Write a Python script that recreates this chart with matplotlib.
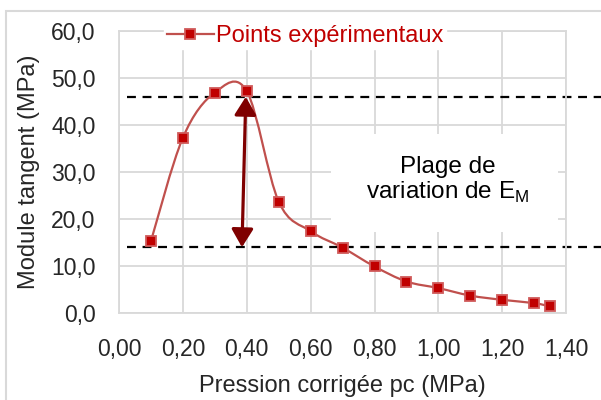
import matplotlib
matplotlib.use('Agg')
import matplotlib.pyplot as plt
from matplotlib.path import Path
from matplotlib.patches import PathPatch, Rectangle
from matplotlib.lines import Line2D

plt.rcParams['font.family'] = ['Liberation Sans', 'DejaVu Sans']
plt.rcParams['mathtext.fontset'] = 'custom'
plt.rcParams['mathtext.rm'] = 'Liberation Sans'

# données
pression = [0.10, 0.20, 0.30, 0.40, 0.50, 0.60, 0.70, 0.80, 0.90, 1.00, 1.10, 1.20, 1.30, 1.35]
module = [15.3, 37.3, 46.9, 47.2, 23.7, 17.4, 13.9, 9.9, 6.7, 5.3, 3.7, 2.8, 2.1, 1.4]
em_min, em_max = 14.0, 46.0
fleche_x = [0.385, 0.397]   # bas, haut
x_ticks = [0.0, 0.2, 0.4, 0.6, 0.8, 1.0, 1.2, 1.4]
y_ticks = [0, 10, 20, 30, 40, 50, 60]

rouge_ligne = '#c0504d'
rouge_point = '#c00000'
gris = '#d9d9d9'

fig = plt.figure(figsize=(6.01, 4.00), dpi=100)
ax = fig.add_axes([0.198, 0.2175, 0.744, 0.705])

# courbe lissée type Excel (bezier)
pts = list(zip(pression, module))
verts = [pts[0]]
codes = [Path.MOVETO]
n = len(pts)
for i in range(n - 1):
    p0 = pts[i - 1] if i > 0 else pts[i]
    p1 = pts[i]
    p2 = pts[i + 1]
    p3 = pts[i + 2] if i + 2 < n else pts[i + 1]
    c1 = (p1[0] + (p2[0] - p0[0]) / 6, p1[1] + (p2[1] - p0[1]) / 6)
    c2 = (p2[0] - (p3[0] - p1[0]) / 6, p2[1] - (p3[1] - p1[1]) / 6)
    verts += [c1, c2, p2]
    codes += [Path.CURVE4] * 3
ax.add_patch(PathPatch(Path(verts, codes), fc='none', ec=rouge_ligne, lw=1.6, zorder=3))
ax.plot(pression, module, ls='none', marker='s', ms=6.5, mfc=rouge_point,
        mec='#d05a5a', mew=1.3, zorder=4)

# lignes de plage
for v in (em_max, em_min):
    ax.plot([0.025, 1.52], [v, v], color='black', lw=1.6, ls=(0, (4, 3)),
            clip_on=False, zorder=2.5)

# fleche double
ax.annotate('', xy=(fleche_x[1], em_max), xytext=(fleche_x[0], em_min),
            arrowprops=dict(arrowstyle='<|-|>,head_width=0.33,head_length=0.55',
                            mutation_scale=20, color='#7f0000', lw=2.3,
                            shrinkA=0, shrinkB=0), zorder=5)

# cadre blanc derriere le texte
ax.add_patch(Rectangle((0.665, 17.3), 0.71, 20.8, fc='white', ec='none', zorder=1))
ax.text(1.03, 28.2, 'Plage de\nvariation de E$_\\mathregular{M}$', ha='center', va='center',
        fontsize=17.5, linespacing=1.05, zorder=6)

ax.set_xlim(0, 1.4)
ax.set_ylim(0, 60)
ax.set_xticks(x_ticks)
ax.set_yticks(y_ticks)
ax.set_xticklabels([f'{t:.2f}'.replace('.', ',') for t in x_ticks])
ax.set_yticklabels([f'{t:.1f}'.replace('.', ',') for t in y_ticks])
ax.tick_params(length=0, labelsize=16.5, colors='#262626')
ax.tick_params(axis='y', pad=17)
ax.tick_params(axis='x', pad=18)
ax.set_axisbelow(True)
ax.grid(True, color=gris, lw=1.3)
for s in ax.spines.values():
    s.set_color(gris)
    s.set_linewidth(1.3)

ax.set_xlabel('Pression corrigée pc (MPa)', fontsize=17, color='#262626', labelpad=10)
ax.set_ylabel('Module tangent (MPa)', fontsize=17, color='#262626', labelpad=8)

h = Line2D([], [], color=rouge_ligne, lw=1.6, marker='s', ms=6.5, mfc=rouge_point,
           mec='#d05a5a', mew=1.3)
leg = ax.legend([h], ['Points expérimentaux'], loc='center', bbox_to_anchor=(0.416, 0.982),
                fontsize=17, labelcolor=rouge_point, frameon=True, fancybox=False,
                framealpha=1, edgecolor='white', facecolor='white', handlelength=2.0,
                handletextpad=0.1, borderpad=0.1, borderaxespad=0)
leg.set_zorder(7)

fig.patches.append(Rectangle((6 / 601, -0.1), 1.2, 1.1 - 11 / 400, fill=False,
                             ec=gris, lw=1.5, transform=fig.transFigure, figure=fig))

fig.savefig('out.png', dpi=100)
